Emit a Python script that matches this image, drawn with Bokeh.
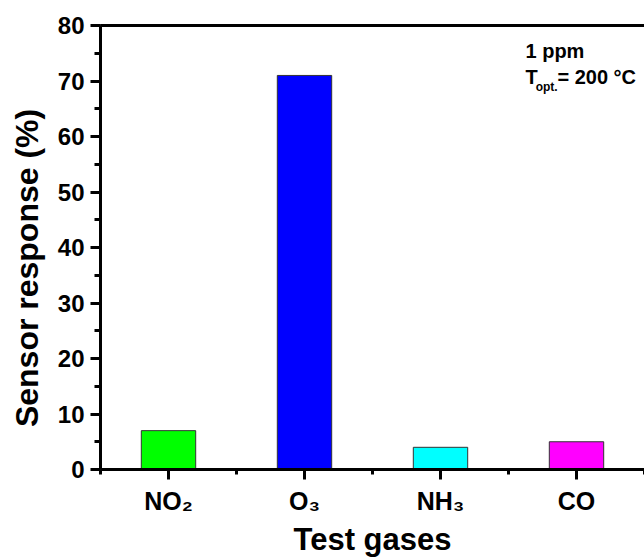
import numpy as np
from bokeh.plotting import figure
from bokeh.models import (ColumnDataSource, FixedTicker, SingleIntervalTicker,
                          LinearAxis, Label, Range1d)
from bokeh.embed import file_html
from bokeh.resources import INLINE

# ---- data ----
gases = ["NO2", "O3", "NH3", "CO"]
gas_labels = ["NO\u2082", "O\u2083", "NH\u2083", "CO"]
response = [7.0, 71.0, 4.0, 5.0]
colors = ["#00FF00", "#0000FF", "#00FFFF", "#FF00FF"]
y_ticks = [0, 10, 20, 30, 40, 50, 60, 70, 80]

FONT = "Liberation Sans"
x_pos = np.arange(1, len(gases) + 1)

src = ColumnDataSource(dict(x=x_pos, top=response, color=colors, gas=gases))

p = figure(width=644, height=559, output_backend="svg", toolbar_location=None,
           x_range=Range1d(0.5, 4.5), y_range=Range1d(y_ticks[0], y_ticks[-1]),
           min_border_left=100, min_border_right=0, min_border_top=25,
           min_border_bottom=89, title=None)
p.outline_line_color = None
p.xgrid.visible = False
p.ygrid.visible = False
p.background_fill_color = "white"
p.border_fill_color = "white"

p.vbar(x="x", top="top", bottom=0, width=0.4, fill_color="color",
       line_color="#333333", line_width=1, source=src)

# y axis
ya = p.yaxis[0]
ya.ticker = SingleIntervalTicker(interval=10, num_minor_ticks=2)
ya.axis_line_width = 3
ya.major_tick_line_width = 3
ya.minor_tick_line_width = 3
ya.major_tick_out = 10
ya.major_tick_in = 0
ya.minor_tick_out = 6
ya.minor_tick_in = 0
ya.major_label_standoff = 6
ya.major_label_text_font = FONT
ya.major_label_text_font_style = "bold"
ya.major_label_text_font_size = "24px"
ya.major_label_text_color = "black"
# trailing spaces push the centred title slightly lower, as in the original
ya.axis_label = "Sensor response (%)\u2002\u2002\u00a0"
ya.axis_label_text_font = FONT
ya.axis_label_text_font_style = "bold"
ya.axis_label_text_font_size = "32px"
ya.axis_label_text_color = "black"
ya.axis_label_standoff = 10

# x axis
xa = p.xaxis[0]
xa.ticker = FixedTicker(ticks=[int(v) for v in x_pos],
                        minor_ticks=list(np.arange(0.5, len(gases) + 1, 1.0)))
xa.major_label_overrides = {int(v): lab for v, lab in zip(x_pos, gas_labels)}
xa.axis_line_width = 3
xa.major_tick_line_width = 3
xa.minor_tick_line_width = 3
xa.major_tick_out = 10
xa.major_tick_in = 0
xa.minor_tick_out = 5
xa.minor_tick_in = 0
xa.major_label_text_font = FONT
xa.major_label_text_font_style = "bold"
xa.major_label_text_font_size = "25px"
xa.major_label_text_color = "black"
xa.major_label_standoff = 7
xa.axis_label = "Test gases"
xa.axis_label_text_font = FONT
xa.axis_label_text_font_style = "bold"
xa.axis_label_text_font_size = "31px"
xa.axis_label_text_color = "black"
xa.axis_label_standoff = 4

# top frame line
top_ax = LinearAxis(ticker=FixedTicker(ticks=[]), axis_line_width=3,
                    major_tick_out=0, major_tick_in=0, minor_tick_out=0,
                    minor_tick_in=0)
p.add_layout(top_ax, "above")

# annotation
ann = dict(text_font=FONT, text_font_style="bold", text_color="black",
           text_baseline="alphabetic", text_align="left")
p.add_layout(Label(x=3.625, y=75.4, text="1 ppm", text_font_size="20px", **ann))
p.add_layout(Label(x=3.625, y=70.7, text="T", text_font_size="20px", **ann))
p.add_layout(Label(x=3.70, y=69.0, text="opt.", text_font_size="12px", **ann))
p.add_layout(Label(x=3.86, y=70.7, text="= 200 °C", text_font_size="20px", **ann))

open("out.html", "w").write(file_html(p, INLINE))
